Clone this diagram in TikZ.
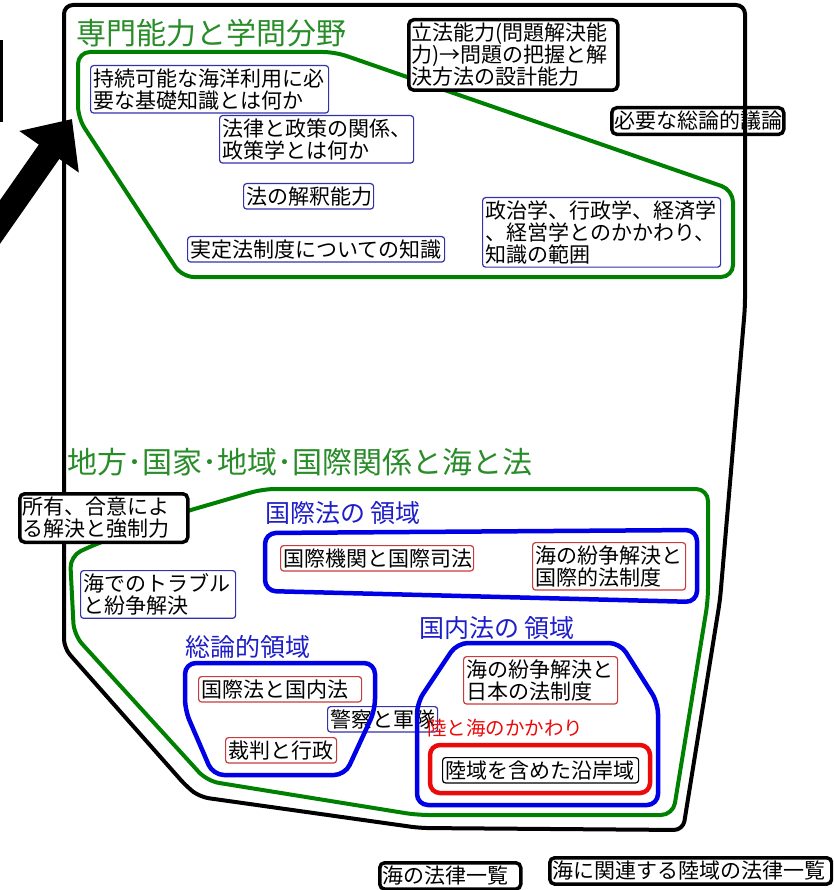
\documentclass[tikz,border=0pt]{standalone}
\usepackage{fontspec}
\setmainfont{Noto Sans CJK JP}
\usepackage{xcolor}
\usepackage{tikz}
\usetikzlibrary{arrows.meta}

\begin{document}
\begin{tikzpicture}[x=1pt,y=-1pt]
    \definecolor{mygreen}{RGB}{0,128,0}
    \definecolor{mytitle}{RGB}{40,140,40}
    \definecolor{myblue}{RGB}{0,0,230}
    \definecolor{myblueline}{RGB}{50,50,170}
    \definecolor{mybluetext}{RGB}{30,30,200}
    \definecolor{myred}{RGB}{235,10,10}
    \definecolor{myredline}{RGB}{200,60,60}

    % 文字の大きさ
    \tikzstyle{boxfont}=[font=\fontsize{21}{22}\selectfont]
    % 細い枠の箱(青・赤・黒)
    \tikzstyle{bluebox}=[rectangle,rounded corners=3pt,draw=myblueline,line width=1.2pt,fill=white,anchor=north west,align=left,inner xsep=3pt,inner ysep=3pt,boxfont]
    \tikzstyle{redbox}=[bluebox,draw=myredline]
    \tikzstyle{thinbox}=[bluebox,draw=black]
    % 太い黒枠の箱
    \tikzstyle{blackbox}=[bluebox,draw=black,line width=3.5pt,rounded corners=5pt,inner ysep=3.5pt]
    % 見出しとラベル
    \tikzstyle{title}=[anchor=west,inner sep=0pt,text=mytitle,font=\fontsize{30}{32}\selectfont]
    \tikzstyle{bluelabel}=[anchor=west,inner sep=0pt,text=mybluetext,font=\fontsize{25}{27}\selectfont]
    \tikzstyle{redlabel}=[anchor=west,inner sep=0pt,text=myred,font=\fontsize{19.5}{21}\selectfont]
    % 領域の線
    \tikzstyle{outline}=[draw=black,line width=4pt,rounded corners=9pt]
    \tikzstyle{greenarea}=[draw=mygreen,line width=4pt,rounded corners=12pt]
    \tikzstyle{bluearea}=[draw=myblue,line width=4.5pt,rounded corners=11pt]
    \tikzstyle{redarea}=[draw=myred,line width=4.5pt,rounded corners=10pt]

    \useasboundingbox (0,0) rectangle (833,890);
    \clip (0,0) rectangle (833,890);

    % 外枠の線の下になる箱
    \node[blackbox,text width=166pt] (gen) at (610,106) {必要な総論的議論};
    \node[bluebox,text width=104pt] (police) at (327,706) {警察と軍隊};

    % 外枠
    \draw[outline] (64,648) -- (64,5) -- (745,5) -- (745,307) -- (720,600) -- (683,830)
        -- (420,828) -- (200,797) -- (187,787) -- cycle;
    \draw[line width=4pt] (1,40) -- (1,122);

    % 太い矢印
    \coordinate (arrowstart) at (-14,242);
    \coordinate (arrowtip) at (72,119);
    \draw[line width=25pt,-{Triangle[length=40pt,width=70pt]}] (arrowstart) -- (arrowtip);

    % 領域
    \draw[greenarea] (78,52) -- (335,52) -- (733,190) -- (733,277) -- (182,277) -- (78,118) -- cycle;
    \draw[greenarea] (184,512) -- (263,489) -- (708,489) -- (708,600) -- (673,815) -- (417,815)
        -- (207,781) -- (74,635) -- (70,556) -- (96,544) -- cycle;
    \draw[bluearea] (265,533) -- (697,530) -- (697,602) -- (265,591) -- cycle;
    \draw[bluearea] (185,663) -- (375,663) -- (375,710) -- (345,775) -- (213,775) -- (185,710) -- cycle;
    \draw[bluearea] (457,643) -- (620,643) -- (658,703) -- (658,805) -- (417,805) -- (417,703) -- cycle;
    \draw[redarea] (430,745) rectangle (650,793);

    % 見出し
    \node[title] (title1) at (76,33) {専門能力と学問分野};
    \node[title] (title2) at (67,462) {地方･国家･地域･国際関係と海と法};
    \node[bluelabel] (intlabel) at (265,513) {国際法の 領域};
    \node[bluelabel] (genlabel) at (185,647) {総論的領域};
    \node[bluelabel] (domlabel) at (419,628) {国内法の 領域};

    % 専門能力と学問分野の箱
    \node[bluebox,text width=232pt] (know) at (90,65) {持続可能な海洋利用に必\\要な基礎知識とは何か};
    \node[bluebox,text width=188pt] (policy) at (219,115) {法律と政策の関係、\\政策学とは何か};
    \node[bluebox,text width=124pt] (interp) at (243,183) {法の解釈能力};
    \node[bluebox,text width=251pt] (positive) at (187,236) {実定法制度についての知識};
    \node[bluebox,text width=232pt] (social) at (482,197) {政治学、行政学、経済学\\、経営学とのかかわり、\\知識の範囲};
    \node[blackbox,text width=203pt] (legis) at (407,18) {立法能力(問題解決能\\力)→問題の把握と解\\決方法の設計能力};

    % 海と法の箱
    \node[blackbox,text width=162pt] (owner) at (18,492) {所有、合意によ\\る解決と強制力};
    \node[bluebox,text width=149pt] (trouble) at (80,570) {海でのトラブル\\と紛争解決};
    \node[redbox,text width=187pt] (intorg) at (280,545) {国際機関と国際司法};
    \node[redbox,text width=147pt] (intsys) at (532,542) {海の紛争解決と\\国際的法制度};
    \node[redbox,text width=157pt] (domint) at (198,676) {国際法と国内法};
    \node[redbox,text width=105pt] (court) at (225,737) {裁判と行政};
    \node[redbox,text width=148pt] (jpsys) at (463,656) {海の紛争解決と\\日本の法制度};
    \node[redlabel] (landsea) at (427,728) {陸と海のかかわり};
    \node[thinbox,text width=190pt] (coast) at (442,757) {陸域を含めた沿岸域};

    % 法律一覧
    \node[blackbox,text width=135pt] (sealaw) at (378,861) {海の法律一覧};
    \node[blackbox,text width=276pt] (landlaw) at (548,856) {海に関連する陸域の法律一覧};
\end{tikzpicture}
\end{document}
